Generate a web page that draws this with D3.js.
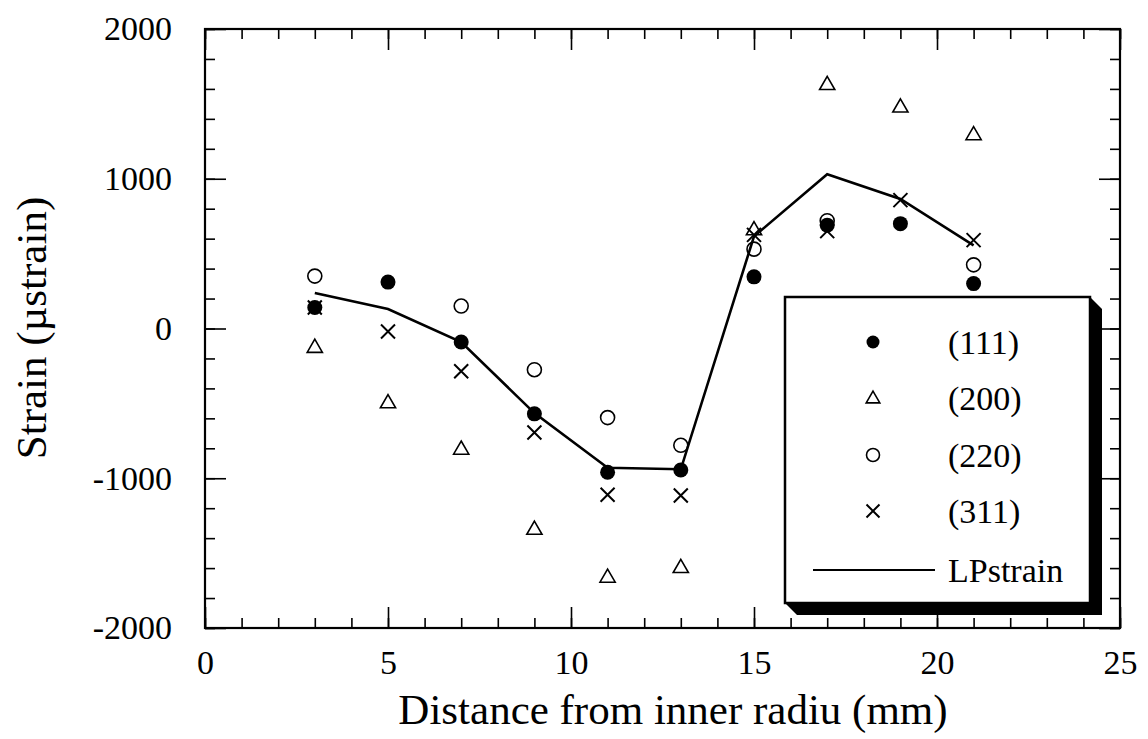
<!DOCTYPE html>
<html>
<head>
<meta charset="utf-8">
<script src="https://cdn.jsdelivr.net/npm/d3@7"></script>
<style>
  body { margin: 0; background: #fff; }
  svg { display: block; font-family: "Liberation Serif", "Times New Roman", serif; }
  .tick text { font-size: 34px; fill: #000; font-family: "Liberation Serif", "Times New Roman", serif; }
  .domain { display: none; }
  .tick line { stroke: #000; stroke-width: 1.6; }
</style>
</head>
<body>
<svg width="1148" height="739"></svg>
<script>
// data
const positions = [3, 5, 7, 9, 11, 13, 15, 17, 19, 21]
const s111 = [140, 310, -90, -570, -960, -945, 345, 690, 700, 300]
const s200 = [-130, -500, -810, -1345, -1665, -1600, 655, 1625, 1475, 1290]
const s220 = [350, null, 150, -275, -595, -780, 530, 720, null, 425]
const s311 = [140, -20, -285, -695, -1110, -1115, 625, 650, 857, 590]
const lpStrain = [237, 130, -90, -565, -930, -940, 615, 1030, 865, 555]

const xMajor = [0, 5, 10, 15, 20, 25]
const yMajor = [-2000, -1000, 0, 1000, 2000]
const legendLabels = ['(111)', '(200)', '(220)', '(311)', 'LPstrain']

const svg = d3.select('svg')
const plotL = 205, plotR = 1120, plotT = 29, plotB = 628

const x = d3.scaleLinear().domain([0, 25]).range([plotL, plotR])
const y = d3.scaleLinear().domain([-2000, 2000]).range([plotB, plotT])

const xMinor = d3.range(0, 26)
const yMinor = d3.range(-2000, 2001, 200)
const plain = d => String(d)   // hyphen minus, like the original

// ticks on all four sides, pointing inward
const axes = svg.append('g').attr('class', 'axes')
axes.append('g').attr('transform', `translate(0,${plotB})`)
  .call(d3.axisBottom(x).tickValues(xMinor).tickSize(-10).tickFormat(''))
axes.append('g').attr('transform', `translate(0,${plotB})`)
  .call(d3.axisBottom(x).tickValues(xMajor).tickSize(-21).tickPadding(22).tickFormat(plain))
axes.append('g').attr('transform', `translate(0,${plotT})`)
  .call(d3.axisTop(x).tickValues(xMinor).tickSize(-10).tickFormat(''))
axes.append('g').attr('transform', `translate(0,${plotT})`)
  .call(d3.axisTop(x).tickValues(xMajor).tickSize(-21).tickFormat(''))

axes.append('g').attr('transform', `translate(${plotL},0)`)
  .call(d3.axisLeft(y).tickValues(yMinor).tickSize(-10).tickFormat(''))
axes.append('g').attr('transform', `translate(${plotL},0)`)
  .call(d3.axisLeft(y).tickValues(yMajor).tickSize(-21).tickPadding(33).tickFormat(plain))
axes.append('g').attr('transform', `translate(${plotR},0)`)
  .call(d3.axisRight(y).tickValues(yMinor).tickSize(-10).tickFormat(''))
axes.append('g').attr('transform', `translate(${plotR},0)`)
  .call(d3.axisRight(y).tickValues(yMajor).tickSize(-21).tickFormat(''))

axes.selectAll('g').attr('font-family', null).attr('font-size', null)

// plot frame
svg.append('rect')
  .attr('x', plotL).attr('y', plotT)
  .attr('width', plotR - plotL).attr('height', plotB - plotT)
  .attr('fill', 'none').attr('stroke', '#000').attr('stroke-width', 2.2)

// axis titles
svg.append('text')
  .attr('x', 673).attr('y', 724)
  .attr('text-anchor', 'middle')
  .style('font-size', '43px')
  .text('Distance from inner radiu (mm)')

svg.append('text')
  .attr('transform', 'translate(46,328) rotate(-90)')
  .attr('text-anchor', 'middle')
  .style('font-size', '43px')
  .text('Strain (\u00b5strain)')

// marker helpers
const triPath = d3.symbol().type(d3.symbolTriangle)
const crossPath = r => `M${-r},${-r}L${r},${r}M${r},${-r}L${-r},${r}`

function drawFilled(g, cx, cy, r) {
  g.append('circle').attr('cx', cx).attr('cy', cy).attr('r', r).attr('fill', '#000')
}
function drawTriangle(g, cx, cy, size) {
  g.append('path').attr('d', triPath.size(size)())
    .attr('transform', `translate(${cx},${cy})`)
    .attr('fill', 'none').attr('stroke', '#000').attr('stroke-width', 1.6)
}
function drawOpen(g, cx, cy, r) {
  g.append('circle').attr('cx', cx).attr('cy', cy).attr('r', r)
    .attr('fill', 'none').attr('stroke', '#000').attr('stroke-width', 1.6)
}
function drawCross(g, cx, cy, r) {
  g.append('path').attr('d', crossPath(r))
    .attr('transform', `translate(${cx},${cy})`)
    .attr('fill', 'none').attr('stroke', '#000').attr('stroke-width', 2)
}

const marks = svg.append('g')

positions.forEach((p, i) => {
  if (s200[i] != null) drawTriangle(marks, x(p), y(s200[i]), 100)
  if (s220[i] != null) drawOpen(marks, x(p), y(s220[i]), 7)
  if (s311[i] != null) drawCross(marks, x(p), y(s311[i]), 7)
  if (s111[i] != null) drawFilled(marks, x(p), y(s111[i]), 7.5)
})

// LPstrain line
const line = d3.line()
  .x((d, i) => x(positions[i]))
  .y(d => y(d))

svg.append('path')
  .datum(lpStrain)
  .attr('d', line)
  .attr('fill', 'none')
  .attr('stroke', '#000')
  .attr('stroke-width', 2.6)

// legend box with a bevelled drop shadow
const lx0 = 785, ly0 = 297, lx1 = 1090, ly1 = 603, sh = 12
const legend = svg.append('g')

legend.append('path')
  .attr('d', `M${lx1},${ly0}L${lx1 + sh},${ly0 + sh}L${lx1 + sh},${ly1 + sh}L${lx0 + sh},${ly1 + sh}L${lx0},${ly1}Z`)
  .attr('fill', '#000')

legend.append('rect')
  .attr('x', lx0).attr('y', ly0)
  .attr('width', lx1 - lx0).attr('height', ly1 - ly0)
  .attr('fill', '#fff').attr('stroke', '#000').attr('stroke-width', 2.5)

const rowY = [342, 398, 455, 511, 570]
const symX = 873, textX = 948

drawFilled(legend, symX, rowY[0], 6.5)
drawTriangle(legend, symX, rowY[1] + 1, 80)
drawOpen(legend, symX, rowY[2], 6.5)
drawCross(legend, symX, rowY[3], 6.5)
legend.append('line')
  .attr('x1', 813).attr('x2', 935)
  .attr('y1', rowY[4]).attr('y2', rowY[4])
  .attr('stroke', '#000').attr('stroke-width', 2)

legend.selectAll('text.lab')
  .data(legendLabels)
  .enter()
  .append('text')
  .attr('class', 'lab')
  .attr('x', textX)
  .attr('y', (d, i) => rowY[i])
  .attr('dy', '0.35em')
  .style('font-size', '34px')
  .text(d => d)
</script>
</body>
</html>
